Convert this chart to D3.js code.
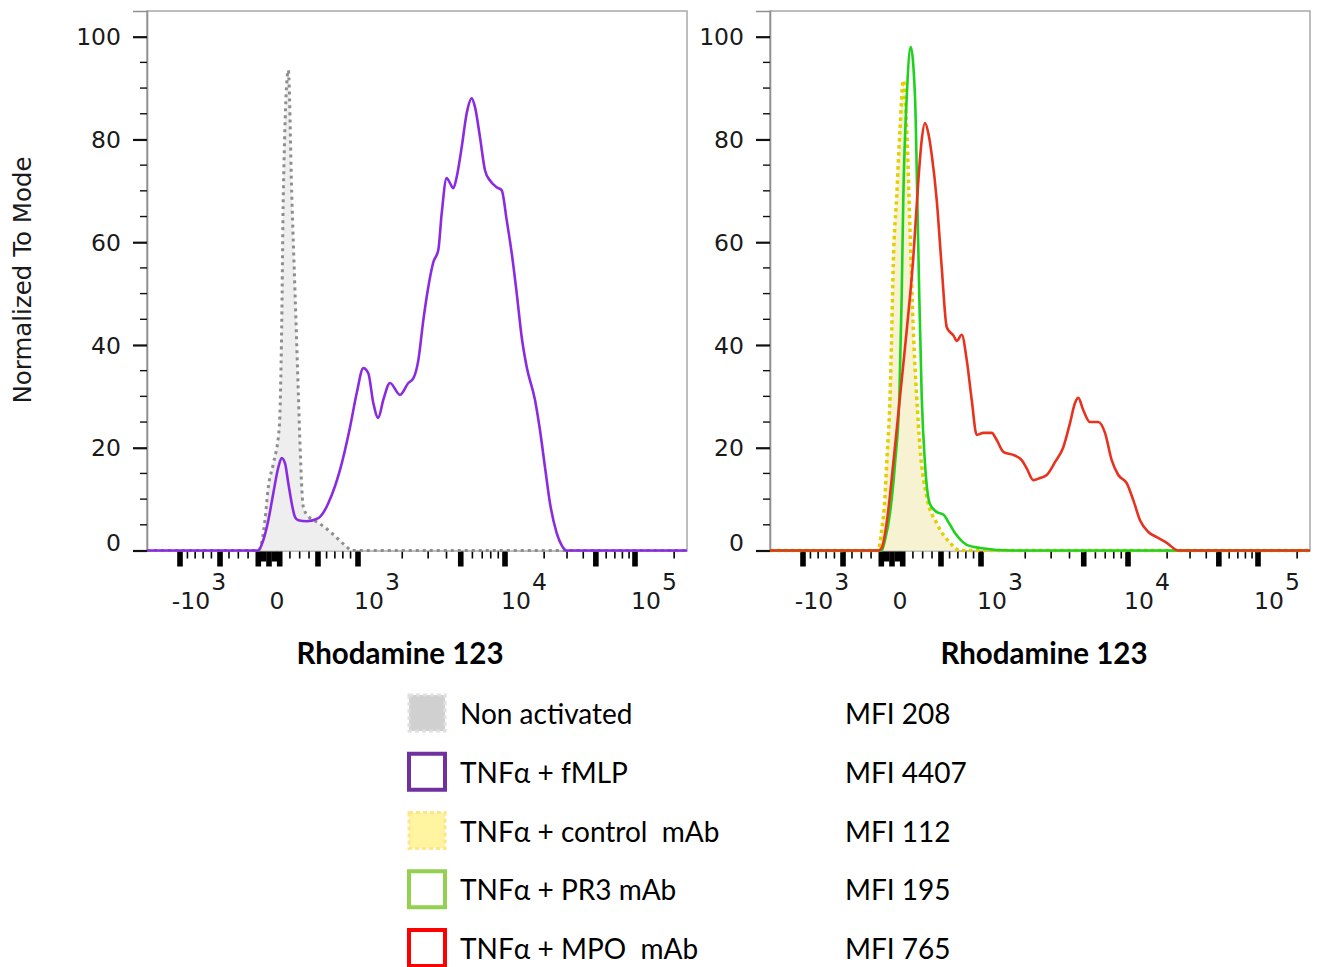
<!DOCTYPE html>
<html><head><meta charset="utf-8">
<script src="https://cdn.jsdelivr.net/npm/d3@7"></script>
<style>body{margin:0;background:#fff} svg{display:block}</style>
</head><body>
<svg id="c" width="1323" height="967"></svg>
<script>
// ---------------- DATA ----------------
// histogram points: [Rhodamine 123 intensity, % of mode]
const nonActivated = [[-2350,0],[-100,0],[-68,1.5],[-37,5.9],[-6,12.4],[40,16.9],[96,24],[119,43.5],[135,69.6],[184,93.5],[218,69.6],[252,50.1],[286,30.6],[303,20.9],[338,8.5],[375,7],[466,5.8],[581,4.5],[702,2.8],[828,1],[919,0],[251000,0]];
const tnfFmlp = [[-2350,0],[-103,0],[-53,2],[-6,5.9],[40,11.2],[87,16.2],[119,18],[151,17],[184,13.1],[218,9.2],[252,6.5],[286,5.9],[375,5.7],[504,6.3],[581,7.9],[620,9.2],[764,15.7],[893,24],[982,30.6],[1087,35.5],[1175,34.5],[1271,28.7],[1374,25.8],[1486,29.3],[1651,32.6],[1931,30.3],[2199,32.6],[2378,33.5],[2572,37],[2781,44.8],[3008,51.3],[3252,56.1],[3518,58.5],[3710,65.6],[4012,72.5],[4226,71.5],[4449,70.5],[4692,72.7],[5075,78.5],[5489,85.1],[5936,88],[6251,86.3],[6761,80.4],[7311,74],[7907,72],[8780,70.7],[9497,70.1],[10306,64.3],[11261,57.9],[12303,50.1],[13444,41.5],[14689,35.7],[17013,29.3],[18585,23.4],[20310,16.2],[22190,9.2],[24990,3.4],[27310,1],[29830,0],[251000,0]];
const tnfControl = [[-2350,0],[-129,0],[-96,4],[-65,10.4],[-49,17],[-18,29.9],[-2,42.9],[12,55.9],[43,68.8],[74,81.8],[106,91.5],[139,81.8],[171,62.4],[204,42.9],[238,29.9],[272,20.1],[343,10.4],[452,5.3],[605,1.5],[726,0],[251000,0]];
const tnfPr3 = [[-2350,0],[-96,0],[-65,2],[-18,7.3],[28,17],[68,29.9],[90,49.3],[106,68.8],[139,88.3],[178,98],[221,88.3],[244,68.8],[265,49.3],[290,29.9],[324,17],[378,9],[452,7.5],[527,7],[605,5],[665,3.4],[726,2.2],[811,1.1],[987,0.5],[1659,0],[251000,0]];
const tnfMpo = [[-2350,0],[-129,0],[-96,0.5],[-49,5.4],[12,17],[74,29.9],[139,42.9],[204,57],[255,72],[290,79.9],[324,83.2],[360,81.2],[397,77],[452,68.2],[508,55.2],[566,43.5],[605,42.5],[644,41.9],[686,40.8],[748,42],[811,37.1],[876,29.3],[942,22.5],[1037,22.9],[1183,22.9],[1279,21.5],[1418,19.2],[1659,18.6],[1892,17.6],[2046,16],[2269,13.7],[2520,14.1],[2799,14.7],[3187,17.2],[3630,20.1],[4031,24.8],[4360,28.7],[4591,29.7],[4966,27.3],[5514,25],[6281,25],[6975,22.9],[7745,17.6],[8590,14.7],[9799,13.1],[10983,9.8],[12368,5.9],[14329,3.6],[16625,2.6],[19852,1.5],[24375,0],[251000,0]];

const yMajorTicks = [0,20,40,60,80,100];
const yMinorTicks = [5,10,15,25,30,35,45,50,55,65,70,75,85,90,95];
const xMajorTicks = [-1000,-500,0,500,1000,5000,10000,50000,100000];
const xClusterTicks = [-100,-50,50,100];
const xMinorTicks = [-900,-800,-700,-600,-400,-300,-200,200,300,400,600,700,800,900,2000,3000,4000,6000,7000,8000,9000,20000,30000,40000,60000,70000,80000,90000,200000];
const xLabelValues = [-1000,0,1000,10000,100000];
const xLabelBases = ["-10","0","10","10","10"];
const xLabelExps = ["3","","3","4","5"];

const yTitle = "Normalized To Mode";
const xTitle = "Rhodamine 123";
const legendLabels = ["Non activated","TNFα + fMLP","TNFα + control  mAb","TNFα + PR3 mAb","TNFα + MPO  mAb"];
const legendMfi = ["MFI 208","MFI 4407","MFI 112","MFI 195","MFI 765"];

// ---------------- STYLES ----------------
const swatchStyles = [
  {fill:"#d0d0d0", stroke:"#e0e0e0", dash:"4,3", sw:3},
  {fill:"#ffffff", stroke:"#7030a0", dash:null, sw:4},
  {fill:"#fff4a0", stroke:"#ffe588", dash:"4,3", sw:3},
  {fill:"#ffffff", stroke:"#92d050", dash:null, sw:4},
  {fill:"#ffffff", stroke:"#ff0000", dash:null, sw:4}
];

// ---------------- SCALES ----------------
const W = 540, H = 540;
const LIN_C = 2000;
function biex(v){
  const a = Math.abs(v), s = v < 0 ? -1 : 1;
  return a <= 1000 ? s*Math.log10(1+a/LIN_C)/Math.log10(1+1000/LIN_C) : s*(1+Math.log10(a/1000));
}
const xBase = d3.scaleLinear().domain([-1,0,1,2,3]).range([33,122,211,358,488]);
const x = v => xBase(biex(v));
const y = d3.scaleLinear().domain([0,105]).range([H-0.5, 0]);

const svg = d3.select("#c");
const panels = [
  {left:147, top:11, titleX:253, series:[
    {data:nonActivated, area:"#eeeeee", stroke:"#8e8e8e", dash:"3,4", w:3},
    {data:tnfFmlp, area:null, stroke:"#8a2be2", dash:null, w:2.6}
  ]},
  {left:770, top:11, titleX:274, series:[
    {data:tnfControl, area:"#f7f3d2", stroke:"#e3cf00", dash:"3.5,3.5", w:3.5},
    {data:tnfPr3, area:null, stroke:"#1ed21e", dash:null, w:2.6},
    {data:tnfMpo, area:null, stroke:"#e8321e", dash:null, w:2.6}
  ]}
];

const line = d3.line().x(d=>x(d[0])).y(d=>y(d[1])).curve(d3.curveMonotoneX);
const area = d3.area().x(d=>x(d[0])).y0(y(0)).y1(d=>y(d[1])).curve(d3.curveMonotoneX);

panels.forEach((p, pi) => {
  const g = svg.append("g").attr("transform", `translate(${p.left},${p.top})`);
  // box
  g.append("rect").attr("x",0).attr("y",0).attr("width",W).attr("height",H)
    .attr("fill","none").attr("stroke","#a8a8a8").attr("stroke-width",1.5);

  // y axis
  const yAxis = d3.axisLeft(y).tickValues(yMajorTicks).tickSize(14).tickPadding(12).tickFormat(d3.format("d"));
  const ya = g.append("g").call(yAxis);
  ya.select(".domain").attr("stroke","#909090").attr("stroke-width",1.6);
  ya.selectAll(".tick line").attr("stroke","#111").attr("stroke-width",2.2);
  ya.selectAll(".tick text").attr("font-family","DejaVu Sans").attr("font-size",23.5).attr("fill","#1a1a1a")
    .attr("dy", d => d === 0 ? "0" : "0.35em");
  g.append("g").selectAll("line").data(yMinorTicks).join("line")
    .attr("x1",-7).attr("x2",0).attr("y1",d=>y(d)).attr("y2",d=>y(d))
    .attr("stroke","#111").attr("stroke-width",1.4);

  // x ticks
  const tg = g.append("g").attr("transform",`translate(0,${H})`);
  tg.selectAll("rect.maj").data(xMajorTicks).join("rect").attr("class","maj")
    .attr("x",d=>x(d)-2.8).attr("y",0.5).attr("width",5.6).attr("height",15).attr("fill","#000");
  tg.selectAll("rect.cl").data(xClusterTicks).join("rect").attr("class","cl")
    .attr("x",d=>x(d)-2.8).attr("y",0.5).attr("width",5.6).attr("height",d=>Math.abs(d)===100?15:10).attr("fill","#000");
  tg.selectAll("rect.min").data(xMinorTicks).join("rect").attr("class","min")
    .attr("x",d=>x(d)-0.8).attr("y",0.5).attr("width",1.6).attr("height",7).attr("fill","#000");
  const lab = tg.selectAll("text").data(xLabelValues).join("text")
    .attr("font-family","DejaVu Sans").attr("font-size",23.5).attr("fill","#1a1a1a")
    .attr("text-anchor","middle")
    .attr("x",(d,i)=>x(d) + (xLabelExps[i] ? 19 : 8)).attr("y",58);
  lab.append("tspan").text((d,i)=>xLabelBases[i]);
  lab.append("tspan").attr("dx",(d,i)=>xLabelExps[i]? 1 : 0).attr("dy",(d,i)=>xLabelExps[i]? -19 : 0).text((d,i)=>xLabelExps[i]);

  // curves
  p.series.forEach(s => {
    if (s.area) g.append("path").datum(s.data).attr("d",area).attr("fill",s.area).attr("stroke","none");
  });
  p.series.forEach(s => {
    g.append("path").datum(s.data).attr("d",line).attr("fill","none")
      .attr("stroke",s.stroke).attr("stroke-width",s.w)
      .attr("stroke-dasharray",s.dash).attr("stroke-linejoin","round");
  });

  // x title
  g.append("text").attr("x",p.titleX).attr("y",H+113).attr("text-anchor","middle")
    .attr("font-family","Lato").attr("font-weight","bold").attr("font-size",29.5).attr("fill","#000")
    .text(xTitle);
});

// y title
svg.append("text").attr("transform","translate(31,280) rotate(-90)").attr("text-anchor","middle")
  .attr("font-family","DejaVu Sans").attr("font-size",24.5).attr("fill","#1a1a1a").text(yTitle);

// legend
const lg = svg.append("g");
const rowY = d3.scaleLinear().domain([0,4]).range([713,948]);
legendLabels.forEach((t,i) => {
  const st = swatchStyles[i];
  lg.append("rect").attr("x",409).attr("y",rowY(i)-18).attr("width",36).attr("height",36)
    .attr("fill",st.fill).attr("stroke",st.stroke).attr("stroke-width",st.sw)
    .attr("stroke-dasharray",st.dash);
  lg.append("text").attr("x",460).attr("y",rowY(i)+11).attr("font-family","Lato").attr("font-size",28)
    .attr("fill","#000").style("white-space","pre").text(t);
  lg.append("text").attr("x",845).attr("y",rowY(i)+11).attr("font-family","Lato").attr("font-size",28)
    .attr("fill","#000").text(legendMfi[i]);
});
</script>
</body></html>
